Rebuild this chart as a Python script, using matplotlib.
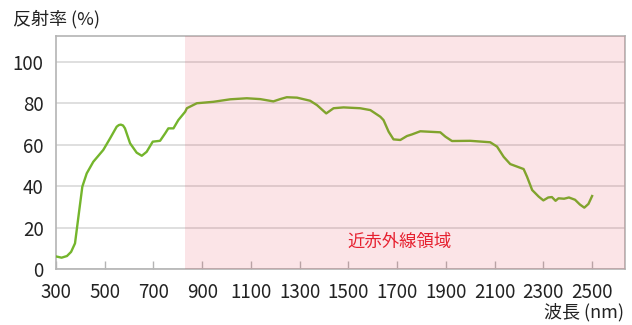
import matplotlib.pyplot as plt

plt.rcParams['font.family'] = ['Noto Sans CJK JP', 'DejaVu Sans']

# 波長 [nm] と反射率 [%]
wavelength = [300, 323, 345, 362, 378, 392, 408, 426, 453, 494, 522, 549, 558, 566, 575, 583, 604,
              631, 652, 672, 697, 727, 748, 761, 782, 802, 830, 837, 878, 946, 1015, 1083, 1138,
              1192, 1220, 1247, 1289, 1343, 1371, 1409, 1439, 1480, 1548, 1590, 1631, 1644, 1665,
              1685, 1713, 1740, 1761, 1795, 1877, 1898, 1925, 2000, 2082, 2110, 2137, 2164, 2219,
              2233, 2254, 2281, 2300, 2320, 2335, 2350, 2362, 2385, 2405, 2430, 2450, 2468, 2485,
              2500]
reflectance = [6.2, 5.6, 6.4, 8.4, 12.5, 25.3, 39.8, 46.2, 51.8, 57.5, 63.1, 68.7, 69.5, 69.7,
               69.3, 67.9, 60.7, 56.2, 54.7, 56.6, 61.5, 61.9, 65.5, 67.9, 67.9, 71.9, 75.9, 77.6,
               80.0, 80.7, 81.9, 82.4, 82.0, 80.9, 82.0, 82.9, 82.7, 81.2, 79.1, 75.1, 77.6, 78.0,
               77.6, 76.7, 73.5, 71.9, 66.3, 62.6, 62.3, 64.2, 65.0, 66.5, 66.0, 63.9, 61.8, 61.9,
               61.2, 59.1, 54.2, 50.7, 48.3, 44.6, 38.2, 35.0, 33.2, 34.6, 34.8, 33.0, 34.2, 34.0,
               34.6, 33.5, 31.2, 29.7, 31.5, 35.3]

nir_start = 830
nir_end = 2635
xticks = list(range(300, 2501, 200))
yticks = list(range(0, 101, 20))

fig = plt.figure(figsize=(6.32, 3.25), dpi=100)
ax = fig.add_axes([56 / 632, 1 - 269.3 / 325, (625 - 56) / 632, (269.3 - 36) / 325])

ax.plot(wavelength, reflectance, color='#74b52c', lw=1.7, zorder=3,
        solid_joinstyle='round', antialiased=True)
# 近赤外線領域の帯（線の上から重ねる）
ax.axvspan(nir_start, nir_end, color='#e0283c', alpha=0.12, lw=0, zorder=4)
ax.text(1711, 13.4, '近赤外線領域', color='#e6202f', fontsize=12.5, ha='center', va='center', zorder=5)

ax.set_xlim(300, nir_end)
ax.set_ylim(0, 112.4)
ax.set_xticks(xticks)
ax.set_yticks(yticks)
ax.set_xticklabels([str(t) for t in xticks])
ax.set_yticklabels([str(t) for t in yticks])
ax.grid(axis='y', color='#d9d9d9', lw=1.2, zorder=1)
for s in ax.spines.values():
    s.set_color('#b4b4b4')
    s.set_linewidth(1.2)
ax.tick_params(axis='x', direction='in', length=6, width=1, color='#b4b4b4', pad=9,
               labelsize=13.5, labelcolor='#222222')
ax.tick_params(axis='y', length=0, pad=9, labelsize=13.5, labelcolor='#222222')

fig.text(13 / 632, 1 - 19.5 / 325, '反射率 (%)', fontsize=13, color='#222222', ha='left', va='center')
fig.text(624 / 632, 1 - 312 / 325, '波長 (nm)', fontsize=13, color='#222222', ha='right', va='center')

fig.savefig('out.png', dpi=100)
